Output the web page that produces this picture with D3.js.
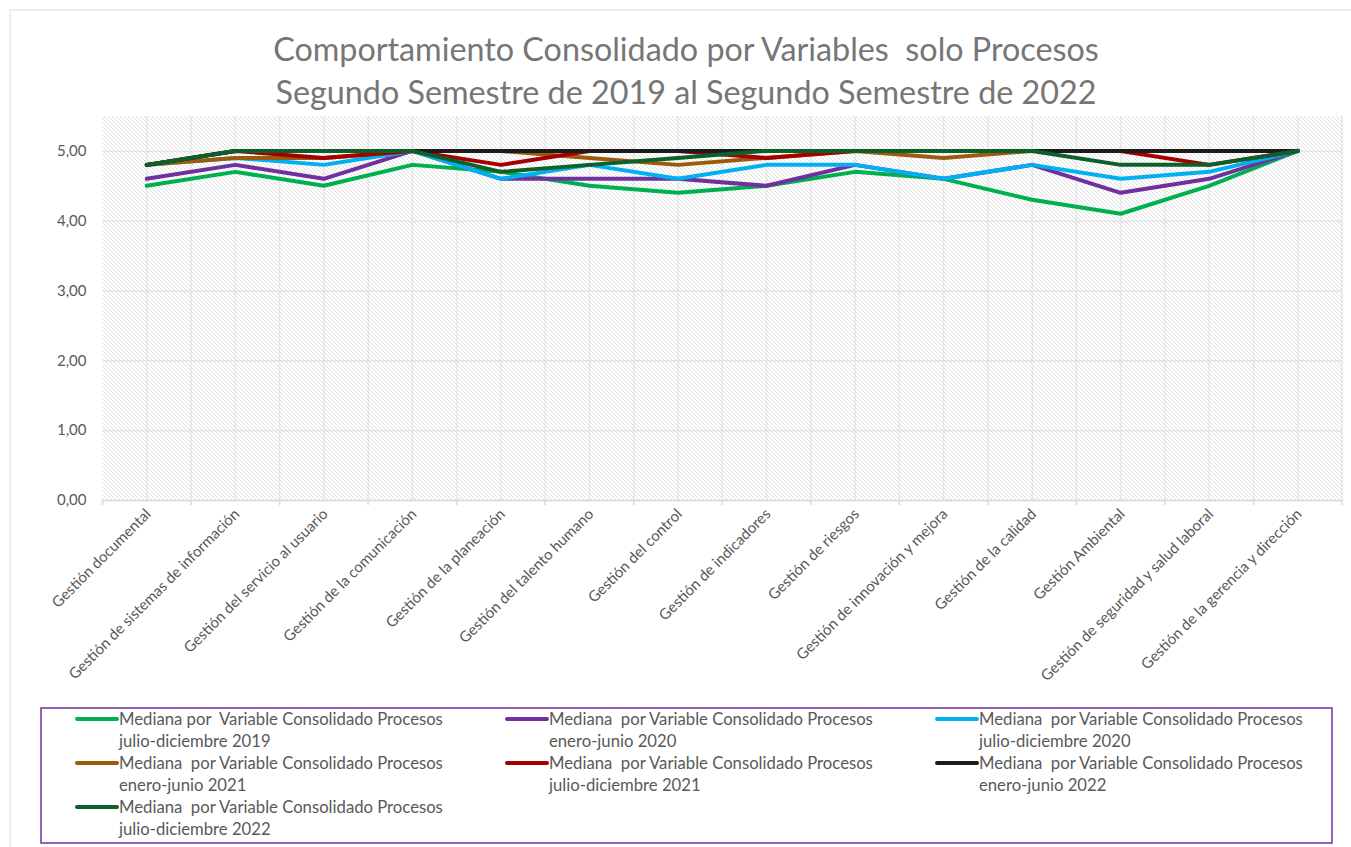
<!DOCTYPE html>
<html>
<head>
<meta charset="utf-8">
<script src="https://cdn.jsdelivr.net/npm/d3@7"></script>
<style>
  body { margin: 0; background: #fff; }
  text { font-family: Lato, "Open Sans", sans-serif; }
</style>
</head>
<body>
<div id="chart"></div>
<script>
// datos
var categorias = ["Gestión documental", "Gestión de sistemas de información", "Gestión del servicio al usuario",
  "Gestión de la comunicación", "Gestión de la planeación", "Gestión del talento humano", "Gestión del control",
  "Gestión de indicadores", "Gestión de riesgos", "Gestión de innovación y mejora", "Gestión de la calidad",
  "Gestión Ambiental", "Gestión de seguridad y salud laboral", "Gestión de la gerencia y dirección"];

var jd2019 = [4.5, 4.7, 4.5, 4.8, 4.7, 4.5, 4.4, 4.5, 4.7, 4.6, 4.3, 4.1, 4.5, 5.0];
var ej2020 = [4.6, 4.8, 4.6, 5.0, 4.6, 4.6, 4.6, 4.5, 4.8, 4.6, 4.8, 4.4, 4.6, 5.0];
var jd2020 = [4.8, 4.9, 4.8, 5.0, 4.6, 4.8, 4.6, 4.8, 4.8, 4.6, 4.8, 4.6, 4.7, 5.0];
var ej2021 = [4.8, 4.9, 4.9, 5.0, 5.0, 4.9, 4.8, 4.9, 5.0, 4.9, 5.0, 5.0, 5.0, 5.0];
var jd2021 = [4.8, 5.0, 4.9, 5.0, 4.8, 5.0, 5.0, 4.9, 5.0, 5.0, 5.0, 5.0, 4.8, 5.0];
var ej2022 = [4.8, 5.0, 5.0, 5.0, 5.0, 5.0, 5.0, 5.0, 5.0, 5.0, 5.0, 5.0, 5.0, 5.0];
var jd2022 = [4.8, 5.0, 5.0, 5.0, 4.7, 4.8, 4.9, 5.0, 5.0, 5.0, 5.0, 4.8, 4.8, 5.0];

var nombres = ["Mediana por  Variable Consolidado Procesos|julio-diciembre 2019",
  "Mediana  por Variable Consolidado Procesos|enero-junio 2020",
  "Mediana  por Variable Consolidado Procesos|julio-diciembre 2020",
  "Mediana  por Variable Consolidado Procesos|enero-junio 2021",
  "Mediana  por Variable Consolidado Procesos|julio-diciembre 2021",
  "Mediana  por Variable Consolidado Procesos|enero-junio 2022",
  "Mediana  por Variable Consolidado Procesos|julio-diciembre 2022"];
var colores = ["#00b050", "#7030a0", "#00b0f0", "#9c5b0c", "#a50000", "#1c1c1c", "#0b6129"];
var yTicks = [0, 1, 2, 3, 4, 5];

var series = [jd2019, ej2020, jd2020, ej2021, jd2021, ej2022, jd2022];

//----------------------------------------------------------------
var largeur = 1351, hauteur = 847;
var svg = d3.select("#chart").append("svg")
  .attr("width", largeur)
  .attr("height", hauteur);

// borde del area del grafico
svg.append("rect")
  .attr("x", 10).attr("y", 10)
  .attr("width", largeur + 20).attr("height", hauteur + 20)
  .attr("fill", "white")
  .attr("stroke", "#d9d9d9");

var plot = { left: 102.5, right: 1342, top: 116, bottom: 500 };

var x = d3.scaleBand()
  .domain(categorias)
  .range([plot.left, plot.right]);
var y = d3.scaleLinear()
  .domain([0, 5.5])
  .range([plot.bottom, plot.top]);

// patron rayado
var defs = svg.append("defs");
var pat = defs.append("pattern")
  .attr("id", "rayas")
  .attr("patternUnits", "userSpaceOnUse")
  .attr("width", 4).attr("height", 4);
pat.append("rect").attr("width", 4).attr("height", 4).attr("fill", "white");
pat.append("path")
  .attr("d", "M-1,-1 L5,5 M-1,3 L1,5 M3,-1 L5,1")
  .attr("stroke", "#dedede")
  .attr("stroke-width", 1);

svg.append("rect")
  .attr("x", plot.left).attr("y", plot.top)
  .attr("width", plot.right - plot.left)
  .attr("height", plot.bottom - plot.top)
  .attr("fill", "url(#rayas)");

// lineas de cuadricula verticales (centro y borde de cada categoria)
var gridX = [];
categorias.forEach(function(c) {
  gridX.push(x(c) + x.bandwidth() / 2);
  gridX.push(x(c) + x.bandwidth());
});
svg.append("g").selectAll("line")
  .data(gridX)
  .enter().append("line")
  .attr("x1", function(d) { return d; })
  .attr("x2", function(d) { return d; })
  .attr("y1", plot.top).attr("y2", plot.bottom)
  .attr("stroke", "#e6e6e6")
  .attr("stroke-width", 1.5);

// cuadricula horizontal + eje y
var yAxis = d3.axisLeft(y)
  .tickValues(yTicks)
  .tickSize(-(plot.right - plot.left))
  .tickPadding(16)
  .tickFormat(function(d) { return d3.format(".2f")(d).replace(".", ","); });
var gy = svg.append("g")
  .attr("transform", "translate(" + plot.left + ",0)")
  .call(yAxis);
gy.select(".domain").remove();
gy.selectAll(".tick line").attr("stroke", "#e3e3e3").attr("stroke-width", 1.5);
gy.selectAll(".tick text")
  .attr("fill", "#595959")
  .style("font-size", "15px");

// eje x
var xAxis = d3.axisBottom(x).tickSize(0).tickFormat("");
var gx = svg.append("g")
  .attr("transform", "translate(0," + plot.bottom + ")")
  .call(xAxis);
gx.select(".domain").attr("stroke", "#d9d9d9").attr("stroke-width", 1.5);
gx.selectAll(".marca")
  .data(categorias)
  .enter().append("line")
  .attr("x1", function(d) { return x(d) + x.bandwidth(); })
  .attr("x2", function(d) { return x(d) + x.bandwidth(); })
  .attr("y1", 0).attr("y2", 5)
  .attr("stroke", "#d9d9d9")
  .attr("stroke-width", 1.5);
gx.append("line")
  .attr("x1", plot.left).attr("x2", plot.left)
  .attr("y1", 0).attr("y2", 5)
  .attr("stroke", "#d9d9d9").attr("stroke-width", 1.5);

svg.append("g").selectAll("text")
  .data(categorias)
  .enter().append("text")
  .attr("transform", function(d) {
    return "translate(" + (x(d) + x.bandwidth() / 2 + 5) + "," + (plot.bottom + 15) + ") rotate(-45)";
  })
  .attr("text-anchor", "end")
  .attr("fill", "#595959")
  .style("font-size", "15px")
  .text(function(d) { return d; });

// lineas de las series
var linea = d3.line()
  .x(function(d, i) { return x(categorias[i]) + x.bandwidth() / 2; })
  .y(function(d) { return y(d); });

svg.append("g").selectAll("path")
  .data(series)
  .enter().append("path")
  .attr("d", linea)
  .attr("fill", "none")
  .attr("stroke", function(d, i) { return colores[i]; })
  .attr("stroke-width", 4)
  .attr("stroke-linejoin", "round")
  .attr("stroke-linecap", "round");

// titulo
var titulo = svg.append("text")
  .attr("x", 686)
  .attr("text-anchor", "middle")
  .attr("fill", "#767676")
  .style("font-size", "32.3px")
  .style("white-space", "pre");
titulo.append("tspan").attr("x", 686).attr("y", 61).text("Comportamiento Consolidado por Variables  solo Procesos");
titulo.append("tspan").attr("x", 686).attr("y", 104).text("Segundo Semestre de 2019 al Segundo Semestre de 2022");

// leyenda
svg.append("rect")
  .attr("x", 41).attr("y", 708)
  .attr("width", 1291).attr("height", 135)
  .attr("fill", "none")
  .attr("stroke", "#7030a0")
  .attr("stroke-width", 1.5);

var colX = [77, 507, 937];
var leyenda = svg.append("g").selectAll("g")
  .data(nombres)
  .enter().append("g")
  .attr("transform", function(d, i) {
    return "translate(" + colX[i % 3] + "," + (719 + Math.floor(i / 3) * 44) + ")";
  });
leyenda.append("line")
  .attr("x1", 0).attr("x2", 40)
  .attr("stroke", function(d, i) { return colores[i]; })
  .attr("stroke-width", 4)
  .attr("stroke-linecap", "round");
var lt = leyenda.append("text")
  .attr("fill", "#595959")
  .style("font-size", "16.7px")
  .style("white-space", "pre");
lt.append("tspan").attr("x", 42).attr("y", 6).text(function(d) { return d.split("|")[0]; });
lt.append("tspan").attr("x", 42).attr("y", 28).text(function(d) { return d.split("|")[1]; });
</script>
</body>
</html>
